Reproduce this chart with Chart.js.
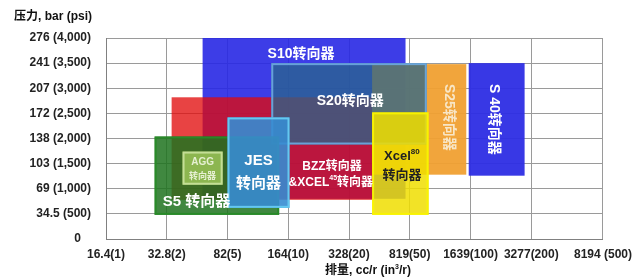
<!DOCTYPE html>
<html>
<head>
<meta charset="utf-8">
<script src="https://cdn.jsdelivr.net/npm/chart.js@4"></script>
<style>
  html, body { margin: 0; padding: 0; background: #fff; }
  #wrap { width: 640px; height: 280px; }
</style>
</head>
<body>
<div id="wrap"><canvas id="chart" width="640" height="280"></canvas></div>
<script>
const xTickLabels = ['16.4(1)', '32.8(2)', '82(5)', '164(10)', '328(20)', '819(50)', '1639(100)', '3277(200)', '8194 (500)'];
const xTickValues = [0, 1, 2, 3, 4, 5, 6, 7, 8.18];
const yTickLabels = ['0   ', '34.5 (500)', '69 (1,000)', '103 (1,500)', '138 (2,000)', '172 (2,500)', '207 (3,000)', '241 (3,500)', '276 (4,000)'];

// one range per steering unit, in draw order (x in tick-index units, y in psi)
const units    = ['S10', 'BZZ', 'S25', 'S40', 'S20', 'S5', 'AGG', 'JES', 'Xcel80'];
const flowFrom = [1.59, 1.08, 4.38, 5.97, 2.72, 0.80, 1.26, 2.00, 4.38];
const flowTo   = [4.93, 4.38, 5.93, 6.89, 5.28, 2.85, 1.92, 3.02, 5.31];
const psiLow   = [800, 780, 1280, 1260, 1880, 480, 1080, 620, 480];
const psiHigh  = [4000, 2820, 3480, 3500, 3500, 2040, 1740, 2420, 2520];

const fills = ['rgba(40,40,228,0.9)', 'rgba(225,10,10,0.77)', 'rgba(240,160,50,0.95)', 'rgba(45,45,228,0.95)',
  'rgba(42,102,139,0.75)', 'rgba(30,115,30,0.85)', 'rgba(140,182,80,1)', 'rgba(55,140,210,0.9)', 'rgba(240,222,0,0.85)'];
const borders = [null, null, null, null, 'rgba(110,170,225,0.9)', 'rgba(40,140,40,0.9)',
  'rgba(195,222,150,1)', 'rgba(100,200,240,1)', 'rgba(250,245,0,0.9)'];

// box captions ('^' toggles superscript)
const captions = [
  { t: 'S10转向器', x: 3.21, y: 3680, size: 14, color: '#fff' },
  { t: 'S20转向器', x: 4.02, y: 2740, size: 14, color: '#fff' },
  { t: 'AGG', x: 1.59, y: 1520, size: 10, color: '#e6f0d2' },
  { t: '转向器', x: 1.59, y: 1240, size: 9, color: '#e6f0d2' },
  { t: 'JES', x: 2.51, y: 1560, size: 15, color: '#fff' },
  { t: '转向器', x: 2.51, y: 1100, size: 15, color: '#fff' },
  { t: 'BZZ转向器', x: 3.72, y: 1440, size: 12, color: '#fff' },
  { t: '&XCEL^45^转向器', x: 3.70, y: 1120, size: 12, color: '#fff' },
  { t: 'S5 转向器', x: 1.49, y: 740, size: 15, color: '#fff' },
  { t: 'Xcel^80', x: 4.87, y: 1640, size: 13, color: '#222' },
  { t: '转向器', x: 4.87, y: 1260, size: 13, color: '#222' },
  { t: 'S25转向器', x: 5.64, y: 2420, size: 14, color: '#f8e6c6', rotate: true },
  { t: 'S 40转向器', x: 6.38, y: 2380, size: 14, color: '#fff', rotate: true },
];

const FONT = '"Liberation Sans", Arial, "Noto Sans CJK SC", sans-serif';

function drawRich(ctx, text, x, y, size, color) {
  const parts = text.split('^');
  const base = `bold ${size}px ${FONT}`;
  const sup = `bold ${Math.round(size * 0.62)}px ${FONT}`;
  let w = 0;
  parts.forEach((p, i) => { ctx.font = i % 2 ? sup : base; w += ctx.measureText(p).width; });
  let cx = x - w / 2;
  ctx.fillStyle = color;
  ctx.textAlign = 'left';
  ctx.textBaseline = 'middle';
  parts.forEach((p, i) => {
    ctx.font = i % 2 ? sup : base;
    ctx.fillText(p, cx, i % 2 ? y - size * 0.35 : y);
    cx += ctx.measureText(p).width;
  });
}

const boxes = {
  id: 'boxes',
  beforeDatasetsDraw(chart) {
    const { ctx, scales: { x, y } } = chart;
    ctx.save();
    units.forEach((u, i) => {
      const x0 = x.getPixelForValue(flowFrom[i]);
      const x1 = x.getPixelForValue(flowTo[i]);
      const y0 = y.getPixelForValue(psiHigh[i]);
      const y1 = y.getPixelForValue(psiLow[i]);
      ctx.fillStyle = fills[i];
      ctx.fillRect(x0, y0, x1 - x0, y1 - y0);
      if (borders[i]) {
        ctx.strokeStyle = borders[i];
        ctx.lineWidth = 2;
        ctx.strokeRect(x0 + 1, y0 + 1, x1 - x0 - 2, y1 - y0 - 2);
      }
    });
    captions.forEach(c => {
      const px = x.getPixelForValue(c.x);
      const py = y.getPixelForValue(c.y);
      if (c.rotate) {
        ctx.save();
        ctx.translate(px, py);
        ctx.rotate(Math.PI / 2);
        drawRich(ctx, c.t, 0, 0, c.size, c.color);
        ctx.restore();
      } else {
        drawRich(ctx, c.t, px, py, c.size, c.color);
      }
    });
    ctx.restore();
  },
  afterDraw(chart) {
    const ctx = chart.ctx;
    ctx.save();
    ctx.fillStyle = '#111';
    ctx.font = `bold 12px ${FONT}`;
    ctx.textAlign = 'left';
    ctx.textBaseline = 'middle';
    ctx.fillText('压力, bar (psi)', 14, 17);
    drawRich(ctx, '排量, cc/r (in^3^/r)', 368, 271, 12, '#111');
    ctx.restore();
  }
};

const tickFont = { family: FONT, size: 12, weight: 'bold' };

new Chart(document.getElementById('chart'), {
  type: 'scatter',
  data: { datasets: [{ data: [] }] },
  options: {
    responsive: false,
    animation: false,
    layout: { padding: { top: 38, right: 36, left: 0, bottom: 0 } },
    plugins: { legend: { display: false }, tooltip: { enabled: false } },
    scales: {
      x: {
        type: 'linear',
        min: 0,
        max: 8.18,
        afterBuildTicks: s => { s.ticks = xTickValues.map(v => ({ value: v })); },
        afterFit: s => { s.height = 41; },
        ticks: {
          callback: (v, i) => xTickLabels[i],
          font: tickFont,
          color: '#222',
          padding: 8,
          maxRotation: 0,
          autoSkip: false,
        },
        grid: { color: '#9a9a9a', drawTicks: false },
        border: { color: '#808080' },
      },
      y: {
        min: 0,
        max: 4000,
        afterFit: s => { s.width = 106; },
        ticks: {
          stepSize: 500,
          callback: (v, i) => yTickLabels[i],
          font: tickFont,
          color: '#222',
          padding: 15,
        },
        grid: { color: '#9a9a9a', drawTicks: false },
        border: { color: '#808080' },
      },
    },
  },
  plugins: [boxes],
});
</script>
</body>
</html>
